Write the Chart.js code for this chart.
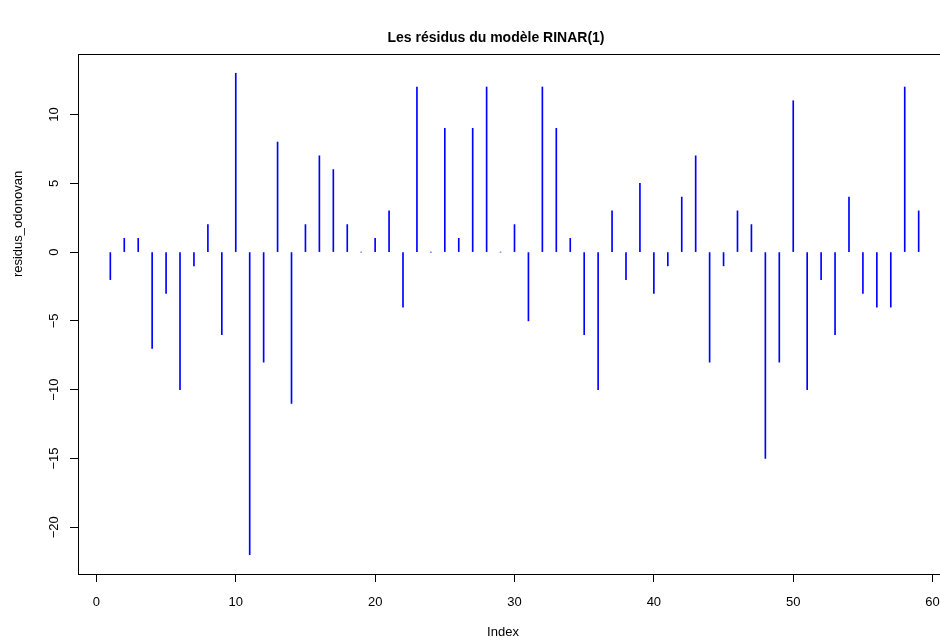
<!DOCTYPE html>
<html>
<head>
<meta charset="utf-8">
<script src="https://cdn.jsdelivr.net/npm/chart.js@4"></script>
<style>
  html, body { margin: 0; padding: 0; background: #fff; overflow: hidden; }
  #wrap { width: 970px; height: 642px; }
</style>
</head>
<body>
<div id="wrap"><canvas id="myChart" width="970" height="642"></canvas></div>
<script>
// Index of each residual
const index = [1, 2, 3, 4, 5, 6, 7, 8, 9, 10,
               11, 12, 13, 14, 15, 16, 17, 18, 19, 20,
               21, 22, 23, 24, 25, 26, 27, 28, 29, 30,
               31, 32, 33, 34, 35, 36, 37, 38, 39, 40,
               41, 42, 43, 44, 45, 46, 47, 48, 49, 50,
               51, 52, 53, 54, 55, 56, 57, 58, 59];
// residus_odonovan
const residus = [-2, 1, 1, -7, -3, -10, -1, 2, -6, 13,
                 -22, -8, 8, -11, 2, 7, 6, 2, 0, 1,
                 3, -4, 12, 0, 9, 1, 9, 12, 0, 2,
                 -5, 12, 9, 1, -6, -10, 3, -2, 5, -3,
                 -1, 4, 7, -8, -1, 3, 2, -15, -8, 11,
                 -10, -2, -6, 4, -3, -4, -4, 12, 3];
const xTicks = [0, 10, 20, 30, 40, 50, 60];
const yTicks = [-20, -15, -10, -5, 0, 5, 10];
const titre = 'Les résidus du modèle RINAR(1)';
const xLabel = 'Index';
const yLabel = 'residus_odonovan';

const FONT = "'Liberation Sans', Arial, Helvetica, sans-serif";

// same 4% extension of the range as R does
function ext(arr) {
    const lo = Math.min(...arr), hi = Math.max(...arr);
    const d = (hi - lo) * 0.04;
    return [lo - d, hi + d];
}
const xr = ext(index), yr = ext(residus);

// box around the plot + title / axis labels, placed like the R output
const rFrame = {
    id: 'rFrame',
    afterDraw(chart) {
        const ctx = chart.ctx, a = chart.chartArea;
        ctx.save();
        ctx.strokeStyle = '#000';
        ctx.lineWidth = 1;
        ctx.strokeRect(Math.round(a.left) + 0.5, Math.round(a.top) + 0.5,
                       Math.round(a.right - a.left), Math.round(a.bottom - a.top));

        ctx.fillStyle = '#000';
        ctx.textAlign = 'center';
        ctx.textBaseline = 'middle';
        ctx.font = 'bold 14px ' + FONT;
        ctx.fillText(titre, 496, 38);

        ctx.font = '13px ' + FONT;
        ctx.fillText(xLabel, 503, 632);

        ctx.translate(18, 224);
        ctx.rotate(-Math.PI / 2);
        ctx.fillText(yLabel, 0, 0);
        ctx.restore();
    }
};

const minus = v => String(v).replace('-', '\u2212');

var ctx = document.getElementById('myChart');
var myChart = new Chart(ctx, {
    type: 'bar',
    data: {
        datasets: [
            {
                label: yLabel,
                data: index.map((x, i) => ({ x: x, y: residus[i] })),
                backgroundColor: '#0000ff',
                borderWidth: 0,
                barThickness: 1,
                grouped: false
            }
        ]
    },
    options: {
        responsive: false,
        devicePixelRatio: 1,
        animation: false,
        layout: { padding: { top: 54, right: 19, bottom: 0, left: 0 } },
        plugins: {
            legend: { display: false },
            tooltip: { enabled: false },
            title: { display: false }
        },
        scales: {
            x: {
                type: 'linear',
                offset: false,
                min: xr[0],
                max: xr[1],
                afterBuildTicks: s => { s.ticks = xTicks.map(v => ({ value: v })); },
                afterFit: s => { s.height = 68; },
                border: { display: false },
                grid: { offset: false, drawOnChartArea: false, drawTicks: true, tickLength: 8, color: '#000' },
                ticks: {
                    color: '#000',
                    font: { family: FONT, size: 13 },
                    padding: 13,
                    autoSkip: false,
                    maxRotation: 0,
                    minRotation: 0,
                    callback: v => minus(v)
                }
            },
            y: {
                type: 'linear',
                min: yr[0],
                max: yr[1],
                afterBuildTicks: s => { s.ticks = yTicks.map(v => ({ value: v })); },
                afterFit: s => { s.width = 78; },
                border: { display: false },
                grid: { drawOnChartArea: false, drawTicks: true, tickLength: 8, color: '#000' },
                ticks: {
                    color: '#000',
                    font: { family: FONT, size: 13 },
                    padding: 5,
                    autoSkip: false,
                    minRotation: 90,
                    maxRotation: 90,
                    crossAlign: 'center',
                    callback: v => minus(v)
                }
            }
        }
    },
    plugins: [rFrame]
});
</script>
</body>
</html>
